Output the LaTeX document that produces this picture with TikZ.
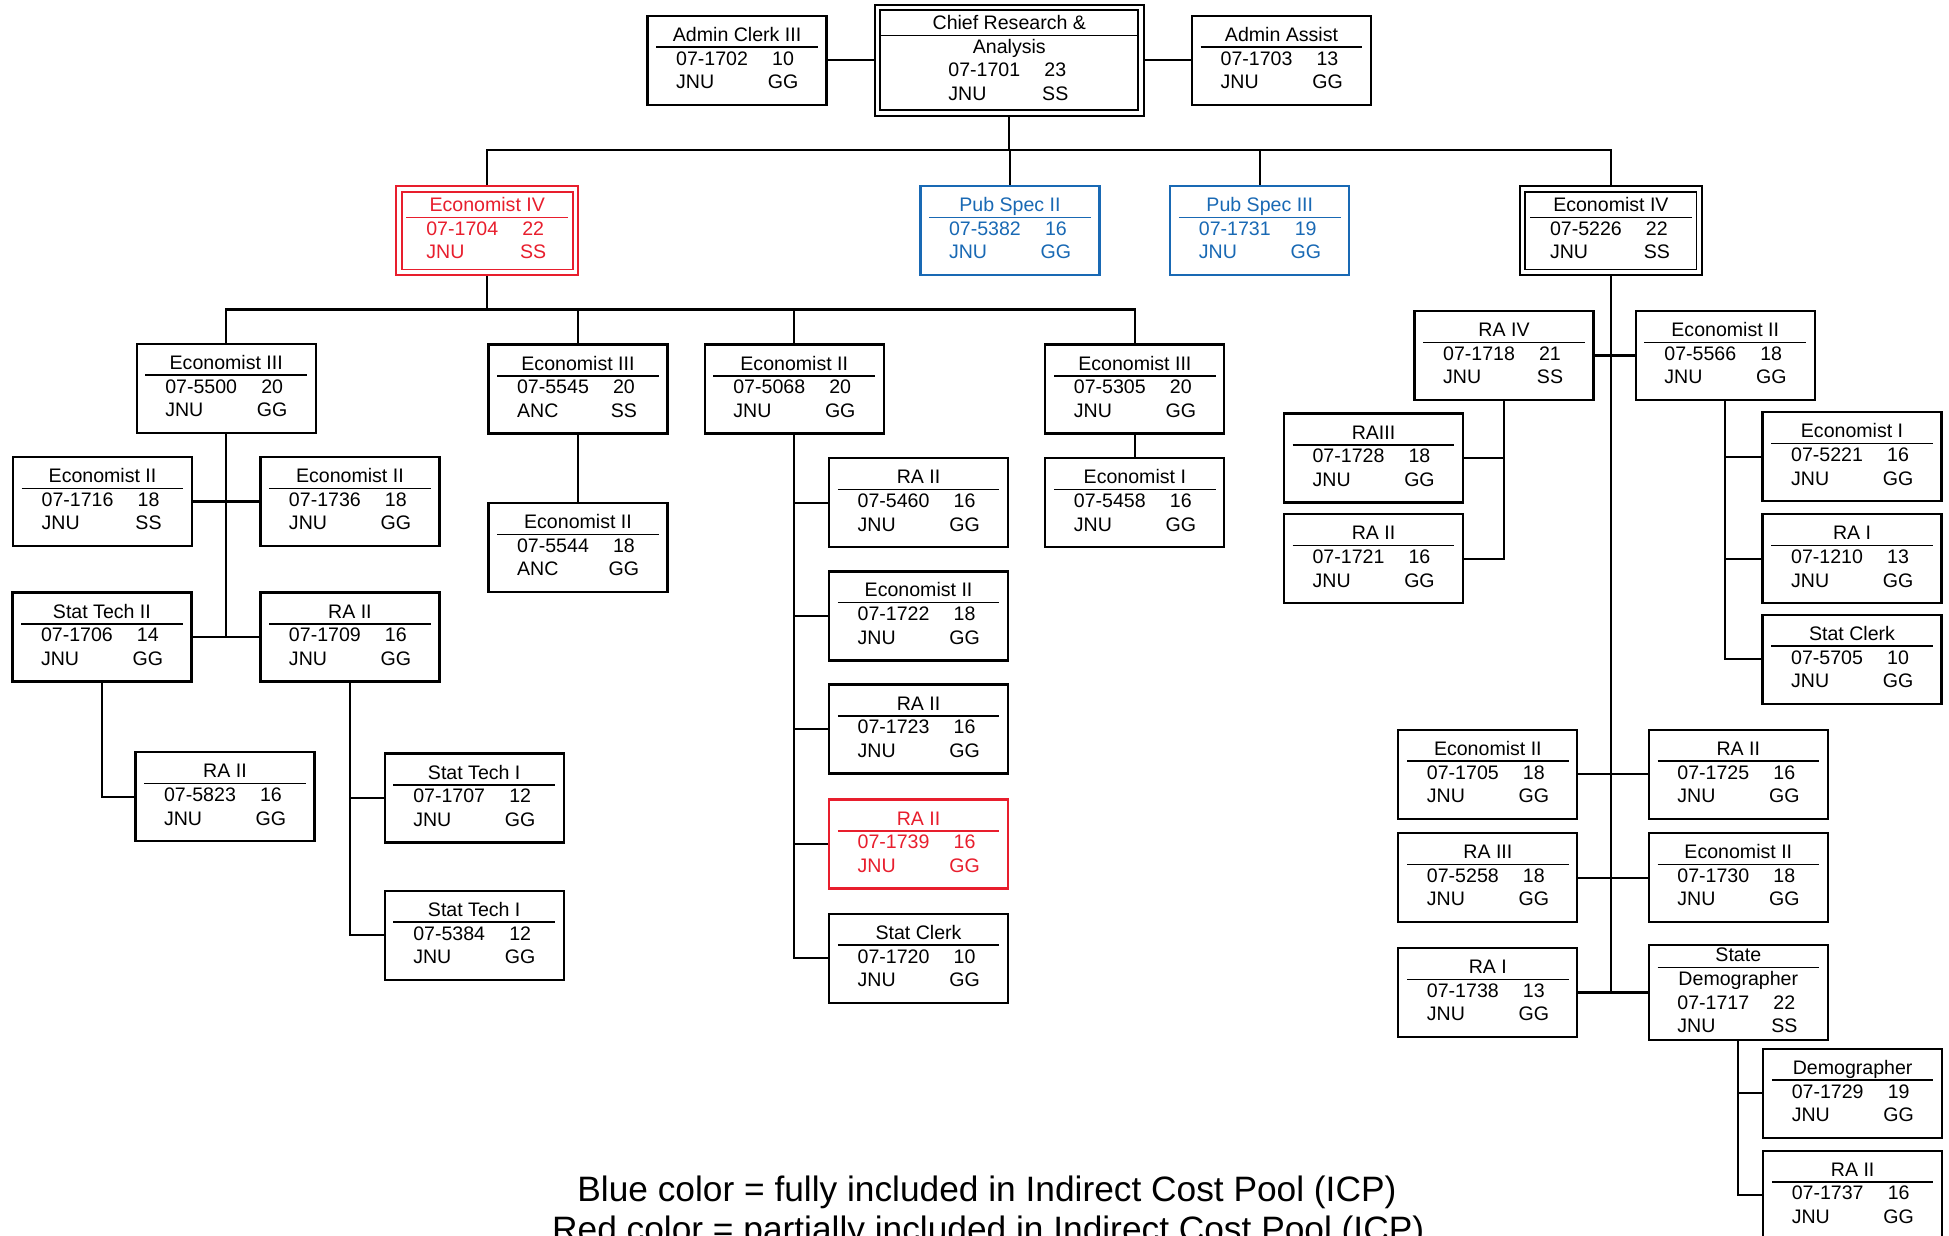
\documentclass[tikz,border=0pt]{standalone}
\usepackage{fontspec}
\setmainfont{Liberation Sans}

\definecolor{icpred}{RGB}{232,30,45}
\definecolor{icpblue}{RGB}{25,105,180}

\newlength{\jobw}\setlength{\jobw}{32.5mm}
\newcommand{\jobrow}[2]{\makebox[24.5mm]{\makebox[18.5mm][l]{#1}\makebox[6mm][c]{#2}}}
\newcommand{\jobtop}[1]{\strut#1\par\vspace{-1.2pt}\hrule height 0.9pt\vspace{0.4pt}}
\newcommand{\job}[5]{\parbox{\jobw}{\centering\jobtop{#1}\strut\jobrow{#2}{#3}\par\strut\jobrow{#4}{#5}}}
\newcommand{\jobsub}[6]{\parbox{\jobw}{\centering\jobtop{#1}\strut#2\par\strut\jobrow{#3}{#4}\par\strut\jobrow{#5}{#6}}}

\begin{document}
\begin{tikzpicture}[x={(0.25mm,0)}, y={(0,-0.25mm)},
    posbox/.style={draw, line width=0.45mm, fill=white, minimum width=36mm,
      minimum height=17.9mm, inner sep=0pt, font=\fontsize{11.2}{13.5}\selectfont},
    headbox/.style={posbox, double, double distance=0.7mm, line width=0.38mm,
      minimum width=35.5mm, minimum height=16.75mm, outer sep=0.73mm},
    redbox/.style={draw=icpred, text=icpred},
    bluebox/.style={draw=icpblue, text=icpblue},
    link/.style={line width=0.42mm},
    note/.style={anchor=base, inner sep=0pt, font=\fontsize{20.2}{24}\selectfont}]
  \useasboundingbox (0,0) rectangle (1568,994);
  \clip (0,0) rectangle (1568,994);

  % top row
  \node[headbox, minimum width=53mm, minimum height=21.25mm] (chief) at (812,48.5)
    {\setlength{\jobw}{52mm}\jobsub{Chief Research \&}{Analysis}{07-1701}{23}{JNU}{SS}};
  \node[posbox] (clerk) at (593,48.5) {\job{Admin Clerk III}{07-1702}{10}{JNU}{GG}};
  \node[posbox] (assist) at (1031,48.5) {\job{Admin Assist}{07-1703}{13}{JNU}{GG}};

  % second row
  \node[headbox, redbox] (econA) at (392,185.5) {\job{Economist IV}{07-1704}{22}{JNU}{SS}};
  \node[posbox, bluebox] (pubA) at (812.5,185.5) {\job{Pub Spec II}{07-5382}{16}{JNU}{GG}};
  \node[posbox, bluebox] (pubB) at (1013.5,185.5) {\job{Pub Spec III}{07-1731}{19}{JNU}{GG}};
  \node[headbox] (econB) at (1296,185.5) {\job{Economist IV}{07-5226}{22}{JNU}{SS}};

  % plain boxes
  \foreach \n/\x/\y/\t/\c/\g/\l/\s in {
      e5500/182/312.5/Economist III/07-5500/20/JNU/GG,
      e5545/465/313/Economist III/07-5545/20/ANC/SS,
      e5068/639/313/Economist II/07-5068/20/JNU/GG,
      e5305/913/313/Economist III/07-5305/20/JNU/GG,
      e1716/82.5/403.5/Economist II/07-1716/18/JNU/SS,
      e1736/281.5/403.5/Economist II/07-1736/18/JNU/GG,
      st1706/82/512.5/Stat Tech II/07-1706/14/JNU/GG,
      ra1709/281.5/512.5/RA II/07-1709/16/JNU/GG,
      ra5823/181/641/RA II/07-5823/16/JNU/GG,
      st1707/381.5/642/Stat Tech I/07-1707/12/JNU/GG,
      st5384/381.5/752.5/Stat Tech I/07-5384/12/JNU/GG,
      e5544/465/440.5/Economist II/07-5544/18/ANC/GG,
      ra5460/739/404.5/RA II/07-5460/16/JNU/GG,
      e1722/739/495.5/Economist II/07-1722/18/JNU/GG,
      ra1723/739/586.5/RA II/07-1723/16/JNU/GG,
      sc1720/739/771/Stat Clerk/07-1720/10/JNU/GG,
      e5458/913/404.5/Economist I/07-5458/16/JNU/GG,
      ra1718/1210/286/RA IV/07-1718/21/JNU/SS,
      e5566/1388/286/Economist II/07-5566/18/JNU/GG,
      ra1728/1105/368.5/RAIII/07-1728/18/JNU/GG,
      ra1721/1105/449.5/RA II/07-1721/16/JNU/GG,
      e5221/1490/367.5/Economist I/07-5221/16/JNU/GG,
      ra1210/1490/449.5/RA I/07-1210/13/JNU/GG,
      sc5705/1490/530.5/Stat Clerk/07-5705/10/JNU/GG,
      e1705/1197/623/Economist II/07-1705/18/JNU/GG,
      ra1725/1398.5/623/RA II/07-1725/16/JNU/GG,
      ra5258/1197/706/RA III/07-5258/18/JNU/GG,
      e1730/1398.5/706/Economist II/07-1730/18/JNU/GG,
      ra1738/1197/798.5/RA I/07-1738/13/JNU/GG,
      dm1729/1490.5/879.5/Demographer/07-1729/19/JNU/GG,
      ra1737/1490.5/961.5/RA II/07-1737/16/JNU/GG}{
    \node[posbox] (\n) at (\x,\y) {\job{\t}{\c}{\g}{\l}{\s}};
  }
  \node[posbox, redbox] (ra1739) at (739,679) {\job{RA II}{07-1739}{16}{JNU}{GG}};
  \node[posbox] (sd1717) at (1398.5,798.5) {\jobsub{State}{Demographer}{07-1717}{22}{JNU}{SS}};

  % links
  \draw[link] (clerk.east) -- (chief.west);
  \draw[link] (chief.east) -- (assist.west);
  \coordinate (bus1) at (812,121);
  \draw[link] (chief.south) -- (bus1);
  \foreach \n in {econA,pubA,pubB,econB}
    \draw[link] (bus1) -| (\n.north);
  \coordinate (bus2) at (392,249);
  \draw[link] (econA.south) -- (bus2);
  \foreach \n in {e5500,e5545,e5068,e5305}
    \draw[link] (bus2) -| (\n.north);

  \draw[link] (e5500.south) -- (e5500.south |- ra1709.west);
  \draw[link] (e1716.east) -- (e1736.west);
  \draw[link] (st1706.east) -- (ra1709.west);
  \draw[link] (st1706.south) |- (ra5823.west);
  \foreach \n in {st1707,st5384}
    \draw[link] (ra1709.south) |- (\n.west);
  \draw[link] (e5545.south) -- (e5544.north);
  \foreach \n in {ra5460,e1722,ra1723,ra1739,sc1720}
    \draw[link] (e5068.south) |- (\n.west);
  \draw[link] (e5305.south) -- (e5458.north);

  \draw[link] (econB.south) -- (econB.south |- sd1717.west);
  \draw[link] (ra1718.east) -- (e5566.west);
  \draw[link] (e1705.east) -- (ra1725.west);
  \draw[link] (ra5258.east) -- (e1730.west);
  \draw[link] (ra1738.east) -- (sd1717.west);
  \foreach \n in {ra1728,ra1721}
    \draw[link] (ra1718.south) |- (\n.east);
  \foreach \n in {e5221,ra1210,sc5705}
    \draw[link] (e5566.south) |- (\n.west);
  \foreach \n in {dm1729,ra1737}
    \draw[link] (sd1717.south) |- (\n.west);

  % colour key
  \node[note] (blueNote) at (794,967) {Blue color = fully included in Indirect Cost Pool (ICP)};
  \node[note] (redNote) at (795,999) {Red color = partially included in Indirect Cost Pool (ICP)};
\end{tikzpicture}
\end{document}
